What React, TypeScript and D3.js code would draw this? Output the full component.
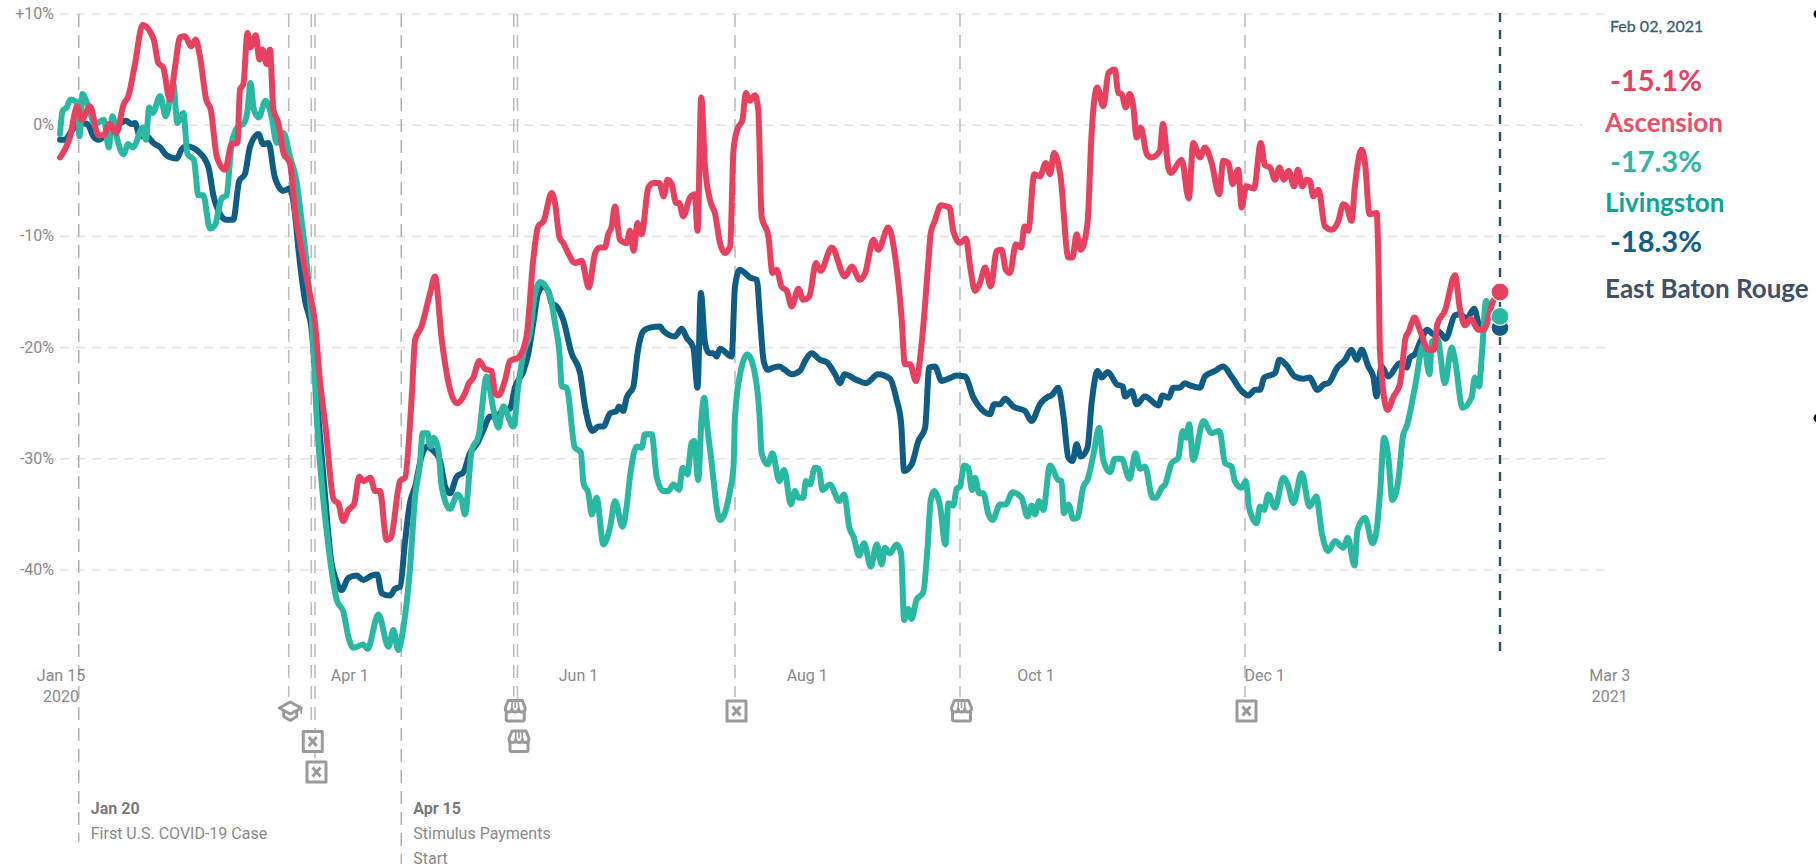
import * as React from "react";
import * as d3 from "d3";

type Pt = [number, number];

// [days since Jan 15 2020, % change]
const ascension: Pt[] = [
  [0,-2.9],[1.3,-2.2],[2.7,-1],[4.6,1.7],[5.8,0.5],[8,1.7],[10.2,-0.9],[11.6,-0.9],[13.2,0.1],[15,-0.7],[17,1.9],[18.2,2.6],[20,5.5],[22,9],[25,7.7],[26.2,5.6],[27.5,5.2],[29.3,2.3],[30.7,5.3],[32,7.9],[33.3,8],[35,7.1],[36.2,7.7],[37.3,6.2],[39,2.3],[40.2,1.4],[41.8,-2.8],[44,-4],[45.8,-1.7],[47.3,-1.6],[48,3.2],[48.9,3.7],[50,8.3],[50.8,7],[52.2,8.1],[53.2,5.9],[54,6.8],[55.1,5.5],[56,6.8],[56.9,1.4],[58.2,0.2],[59.6,-2.5],[61.3,-3.4],[62.7,-7.8],[64,-10.5],[66.2,-14.5],[68,-17.8],[69.3,-22.9],[70.8,-27.1],[73,-33.7],[74.2,-34],[75.5,-35.6],[76.9,-34.6],[78.4,-34.1],[79.8,-31.6],[80.9,-32],[82.8,-31.7],[84,-32.9],[85.3,-32.9],[87.1,-37.3],[88.2,-37.1],[90.7,-32],[92,-31.7],[93.8,-24.4],[94.7,-19.3],[96.4,-18.1],[98.7,-15.1],[100,-13.6],[101.8,-19.3],[105.8,-25],[108,-24.1],[108.9,-23.3],[110.2,-22.7],[111.8,-21.2],[113.3,-21.9],[115.1,-22.1],[116,-24.1],[116.9,-24.3],[118.7,-22.9],[120,-21.2],[122.2,-20.9],[124.4,-19],[126.2,-12.1],[127.5,-9.1],[129,-8.6],[131.1,-6.1],[132,-7],[133.2,-10.1],[134.2,-10.6],[135.5,-11.5],[137.3,-12.4],[139.1,-12.2],[141,-14.6],[142.7,-11.5],[144,-11],[145.3,-11],[146.2,-9.8],[147.1,-9.1],[148,-7.3],[149.3,-10.3],[151.1,-10.6],[152,-9.5],[153,-11.3],[154,-8.8],[155.1,-9.8],[156.9,-5.6],[158.2,-5.2],[159.8,-5.2],[161,-6.4],[162,-4.9],[163.1,-5.3],[164.3,-7],[165.1,-7],[166.2,-8.2],[168,-6.5],[169.3,-6.2],[170,-9.5],[171,2.5],[172,-3.7],[173.3,-6.7],[174.7,-8],[176,-10.6],[177.3,-11.5],[178.7,-10.9],[179.6,-2.2],[180.6,-0.4],[182,0.5],[182.9,2.9],[184,2.2],[185.3,2.7],[186.2,1.4],[187.1,-8.2],[188.9,-10],[190,-13.3],[191.1,-13],[192.4,-14.5],[193.8,-14.9],[195.1,-16.3],[196.9,-14.7],[198.2,-15.7],[199.8,-15.4],[201.6,-12.4],[202.8,-13.1],[205.8,-11],[209.3,-13.6],[211.1,-12.7],[213.3,-13.9],[214.7,-13.3],[216.9,-10.3],[218.2,-11.2],[220.9,-9.2],[222.7,-11.8],[224.4,-17.2],[225.3,-21.5],[226.7,-21.5],[228.2,-23],[230.2,-18.1],[231.6,-12.1],[232.2,-9.7],[233.3,-8.6],[234.9,-7.2],[237.2,-7.4],[238.2,-9.5],[240,-10.6],[241.6,-10.2],[242.7,-12.7],[244,-14.9],[245.2,-14.3],[246.7,-12.8],[248.2,-14.5],[249.8,-11.3],[251.1,-11.2],[252.2,-13],[253.3,-13.3],[254.9,-10.7],[256.3,-11],[257.2,-9.1],[258.2,-9.5],[259.8,-4.4],[261.3,-4.6],[262.9,-3.4],[264,-4.4],[265.1,-2.5],[266.8,-4.6],[268.9,-11.9],[270,-11.9],[271.1,-9.8],[272.2,-11.2],[274,-8.8],[275.1,-0.7],[276.6,3.4],[278.2,1.7],[279.6,4.7],[281.3,5],[282.2,2.9],[283.1,2.8],[284.2,1.6],[285.2,2.8],[286.2,1.7],[287.1,-1.1],[288.2,-0.2],[289.8,-2.6],[291.1,-2.9],[293.3,-2.3],[294.1,0.1],[295.6,-3.9],[296.2,-4.3],[299.1,-3.1],[301,-6.6],[302.2,-1.6],[304,-2.9],[305.3,-2],[307.1,-3.4],[309.1,-6.2],[310.2,-3.2],[311.6,-3.4],[312.7,-5.3],[314.2,-4],[315.1,-7.4],[316.3,-5.5],[318.4,-5.7],[320.2,-1.6],[321.3,-3.6],[322.7,-3.8],[324,-4.9],[325.2,-3.8],[326.4,-4.9],[327.6,-4.1],[329.1,-5.5],[330.1,-4],[331.3,-5.5],[332.4,-4.9],[333.3,-5],[334.2,-6.4],[335.6,-5.8],[337.3,-9.1],[339.1,-9.4],[340.9,-8.6],[342.2,-7.1],[343.1,-7.3],[344.4,-8.6],[345.3,-5.5],[347.1,-2.2],[348,-3.4],[349.2,-8],[351.1,-7.9],[351.6,-12.5],[352,-20.5],[354,-25.6],[355.6,-24.4],[357.3,-23.3],[358.9,-19],[359.6,-18.6],[361.2,-17.3],[362.7,-18.5],[364.9,-20.2],[366.4,-20.2],[367.3,-17.9],[369.3,-16.7],[372,-13.5],[373.3,-16.5],[374.7,-18],[376.2,-17.4],[378.2,-18.4],[379.6,-18.4],[382.2,-15.8],[384,-15],
];

const livingston: Pt[] = [
  [0,-0.8],[0.7,1.3],[1.8,1.6],[2.8,2.3],[4.6,2],[5.2,-1],[6,2.8],[7.3,1.9],[9.3,0.1],[11.7,0.5],[13,-2],[14,0.8],[15.3,-1.3],[16.9,-2.6],[18.2,-1.7],[19.4,-2],[22.2,-0.2],[22.9,-1.3],[23.8,1.6],[24.7,1.1],[26.7,2.6],[28.2,0.8],[30.2,3.7],[31.3,0.2],[32.9,1.1],[34,-2.6],[35.7,-3.1],[36.9,-6.3],[38.2,-6.3],[40,-9.3],[41.3,-9],[43.1,-6.6],[44.4,-6.3],[45.8,-1.6],[47.6,-0.1],[48.9,0.1],[50,1.3],[50.8,3.8],[51.7,1.4],[53,0.7],[54.8,2.2],[56.4,0.8],[57.8,-1.6],[59.6,-0.7],[61.3,-2.8],[63.1,-5.1],[64.2,-8],[66.2,-13.9],[67.6,-19.9],[68.3,-25.3],[69.8,-32.2],[71.6,-37.9],[72.4,-40],[73.8,-42.7],[75.6,-43.8],[76.9,-46],[78.2,-47],[80.9,-46.7],[82,-47.1],[84.9,-44],[87.6,-46.9],[88.9,-45.4],[90.2,-47.2],[91.6,-45.1],[93.3,-40],[94.7,-33.4],[96,-30.4],[96.7,-27.7],[98,-27.7],[98.8,-28.9],[99.7,-28.1],[100.9,-29.2],[101.8,-32.5],[104,-34.5],[106,-33.2],[107.1,-33.7],[108,-35],[109.8,-29.2],[111.6,-28],[113.8,-22.6],[115.6,-25.6],[116.9,-27.2],[118.2,-25.3],[120.9,-27.1],[122.2,-23.5],[123.6,-20.5],[125.3,-18.7],[126.7,-15.1],[128,-14.1],[130.7,-15.4],[132,-17.8],[133.2,-20.5],[133.8,-23.5],[135.1,-23.6],[137.3,-29],[138.9,-29.4],[139.6,-32.2],[140.9,-33.1],[141.8,-35],[143.1,-33.5],[144.9,-37.7],[146.7,-36.1],[148,-33.8],[150,-36.1],[151.1,-34.3],[152,-31.6],[153.8,-28.9],[155.1,-29],[156,-27.8],[157.8,-27.8],[159.1,-31.6],[160.9,-32.9],[162.2,-32.9],[163.6,-32.3],[165.1,-32.8],[166,-30.8],[167.3,-31.4],[168.4,-28.6],[169.1,-28.4],[170.2,-31.9],[171.1,-26.2],[171.8,-24.5],[172.6,-27.1],[173.5,-29.6],[176,-35.5],[178.7,-32.8],[179.6,-30.7],[180,-26.2],[181.8,-21.7],[183.3,-20.6],[184.9,-21.7],[186.5,-25.9],[187.1,-29.5],[188.7,-30.5],[190,-29.5],[191.8,-32],[193.1,-31],[194.9,-34.1],[196,-32.9],[196.9,-33.5],[198.2,-33.5],[198.9,-32],[200,-32.3],[201.3,-30.8],[202.4,-30.9],[203.3,-32.8],[205.3,-32.3],[207.8,-33.8],[209.1,-33.2],[210.5,-36.2],[211.6,-37],[213.1,-38.7],[214.4,-37.6],[216.2,-39.7],[217.8,-37.7],[219.1,-39.5],[220,-38],[221.3,-38.5],[223.1,-37.7],[224.3,-38.5],[225.1,-44.5],[226.2,-43.5],[227.1,-44.4],[228.4,-42.7],[230.2,-42],[231.3,-38.2],[232.2,-33.7],[233.1,-32.9],[234.7,-34.3],[236.1,-37.7],[236.9,-34],[238.2,-34.2],[239.1,-32.7],[240,-32.5],[241.1,-30.6],[242.2,-30.8],[243.2,-32.8],[244,-31.7],[245.1,-33.1],[246.2,-33.1],[247.6,-35],[248.7,-35.5],[250.7,-34.1],[252.2,-34.1],[254,-33],[256.4,-33.5],[258,-35.2],[259.1,-34.2],[260,-35],[261.1,-33.8],[262.2,-34.6],[264,-30.6],[266.2,-31.9],[267.1,-32],[267.7,-34.9],[268.9,-34.1],[270.2,-35.4],[271.3,-35.3],[272.9,-32.5],[274,-31.9],[275.6,-29.6],[277.1,-27.2],[278.2,-30.1],[280,-31.2],[281.3,-30],[283.1,-30],[285.2,-31.8],[286.8,-29.5],[288,-30.9],[289.3,-30.7],[291.4,-33.5],[292.3,-33.5],[293.8,-32.6],[294.7,-32.3],[296.4,-30.4],[298.2,-29.9],[299.4,-27.5],[300.3,-28.1],[301.1,-26.9],[302.2,-30.1],[304.9,-26.6],[307.1,-27.7],[309.2,-27.5],[310.7,-30.4],[312.4,-30.7],[313.3,-32],[315.1,-32.6],[316.2,-32],[317.1,-34.4],[319.1,-35.8],[320,-34.3],[321.1,-34.6],[322.2,-33.2],[324,-34.4],[326.2,-31.7],[327.3,-32.2],[328.9,-34],[331.1,-31.3],[333.2,-34.3],[335,-33.4],[336.5,-36.7],[338.2,-38.3],[340,-37.4],[342.2,-38],[343.4,-37.1],[345.2,-39.6],[346,-36.4],[348,-35.3],[350,-37.6],[351.1,-36.4],[352,-33.1],[353.1,-28.1],[354.2,-29.8],[355.3,-33.7],[356.9,-31.9],[358.2,-27.8],[359.1,-27.1],[361.3,-23.6],[363.6,-19.7],[365.2,-22.4],[365.8,-19.5],[367.3,-19.2],[369.3,-23.2],[371.1,-20],[372,-21.1],[374,-25.4],[376.4,-24.5],[377.3,-22.7],[378.4,-23.5],[379.1,-21],[380.3,-15.8],[381.8,-17.1],[384,-17.2],
];

const eastBatonRouge: Pt[] = [
  [0,-1.3],[1.3,-1.3],[3.1,-0.5],[5.3,0.2],[7.3,0.1],[8.9,-1],[10.2,-1.3],[12.4,-0.8],[14.7,-0.2],[17.6,0.4],[19.1,0.1],[20,0.2],[21.3,-1],[23.1,-1],[24.9,-1.6],[26.7,-2],[28.4,-2.7],[31.1,-3],[32.4,-2.2],[33.8,-1.9],[37.3,-2.5],[39.6,-3.8],[40.9,-6.3],[42.7,-8],[44.4,-8.5],[46.2,-8.5],[47.8,-5],[49.3,-4.4],[50.7,-1.9],[52.9,-0.8],[54.2,-1.7],[55.6,-1.6],[57.3,-4.7],[59.6,-5.9],[61.3,-5.7],[62.7,-8.1],[63.6,-11.2],[65.3,-15.7],[67.1,-18.4],[68.9,-26.2],[70.7,-33.4],[72.4,-39.4],[73.3,-40.6],[75.1,-41.8],[76.9,-40.7],[79.1,-40.5],[80.9,-40.9],[83.1,-40.5],[84.6,-40.4],[85.8,-42.1],[88,-42.3],[89.3,-41.7],[90.7,-41.5],[92,-37.5],[93.3,-34],[94.7,-32.5],[96.4,-29.8],[97.8,-28.9],[99.6,-29.3],[101.3,-30.1],[102.7,-32.5],[104,-33.1],[105.8,-31.6],[107.6,-31.2],[109.3,-29.5],[111.1,-28.7],[112.9,-27.4],[114.7,-26.2],[116.4,-26.2],[118.2,-25.6],[120,-25.5],[121.3,-23.6],[123.6,-22.1],[124.9,-20.5],[126.2,-17.8],[127.5,-15.1],[128.9,-14.5],[130.2,-14.9],[131.1,-16],[132.4,-16.3],[134.2,-17.5],[136.4,-20.5],[138.7,-22.3],[140,-25.3],[142,-27.5],[143.6,-27.1],[144.9,-27.1],[146.7,-25.9],[148.4,-25.7],[149.1,-25.3],[150.2,-25.7],[151.1,-24.5],[152.9,-23.5],[154,-20.5],[155.6,-18.5],[157.3,-18.2],[160,-18.1],[160.9,-18.5],[164,-19],[165.8,-18.3],[167.1,-19.1],[168.9,-20],[170,-23.6],[170.9,-15.1],[172,-19.6],[173.1,-20.5],[174.2,-20.5],[175.1,-20.8],[176,-20.1],[179.1,-20.8],[180,-14.5],[181.3,-13],[182.7,-13.3],[184,-13.7],[185.8,-13.9],[186.7,-17.5],[187.6,-21.1],[188.7,-22],[190.2,-21.8],[191.8,-21.7],[193.3,-22],[195.1,-22.4],[197.3,-22.1],[198.7,-21.2],[200.4,-20.5],[202.7,-21.1],[204.4,-21.3],[206.7,-22.4],[208,-23.2],[209.2,-22.4],[212.4,-22.9],[214.9,-23.2],[218.2,-22.4],[221.3,-22.8],[223.1,-24.7],[224.3,-26.8],[225.1,-31.1],[227.1,-30.5],[228.9,-28.4],[230.7,-27.2],[231.8,-21.8],[233.3,-21.7],[235.1,-23],[236.9,-22.8],[239.1,-22.5],[241.3,-22.6],[243.6,-24.5],[246.2,-25.7],[248,-26],[249.1,-25.1],[250.7,-25.1],[252,-24.6],[254.2,-25.3],[257.3,-25.7],[259.1,-26.6],[261.3,-25.1],[263.6,-24.4],[264.4,-24.3],[266.2,-23.6],[267.6,-26.2],[268.9,-29.9],[270,-30.2],[271.1,-28.7],[272.2,-29.8],[274,-29],[275.1,-25],[276.7,-22.1],[277.8,-22.7],[279.4,-22.2],[281.8,-23.3],[283.4,-23.5],[284,-24.4],[285.8,-23.9],[287.1,-25.1],[289.3,-24.4],[292.9,-25.2],[294,-24.3],[295.6,-24.5],[296.9,-23.6],[298.6,-23.6],[300,-23.2],[301.3,-23.4],[304,-23.6],[305.3,-22.6],[308,-22.1],[310.2,-21.7],[312.4,-22.6],[315.1,-23.9],[316.9,-24.3],[318.7,-23.8],[320,-23.8],[321.1,-22.7],[324,-22.3],[325.2,-21.1],[327.1,-21.6],[329.3,-22.6],[331.6,-22.8],[333.2,-22.7],[335.3,-23.8],[337.1,-23.3],[338.2,-23.2],[340.6,-21.8],[342.7,-21.1],[344.4,-20.2],[345.8,-21.1],[347.1,-20.2],[348.9,-21.7],[350.2,-22.6],[351.1,-24.4],[352.4,-21.7],[354.2,-22.6],[357.3,-21.4],[359.1,-21.8],[360,-20.9],[361.3,-20.6],[362.7,-19.5],[364.6,-18.4],[366.2,-18.8],[367.8,-18.6],[369.5,-19.2],[372,-17.1],[373.3,-17],[375.1,-17.4],[377.1,-16.5],[378.7,-18.2],[380.9,-17],[384,-18.2],
];

const seriesNames = ["East Baton Rouge", "Livingston", "Ascension"];
const seriesColors = ["#0f5c84", "#2bb8a3", "#e8415f"];
const seriesData = [eastBatonRouge, livingston, ascension];

const yTicks = [10, 0, -10, -20, -30, -40];
const xTickDays = [0, 77, 138, 199, 260, 321, 413];
const xTickLabels = ["Jan 15", "Apr 1", "Jun 1", "Aug 1", "Oct 1", "Dec 1", "Mar 3"];
const xTickYears = ["2020", "", "", "", "", "", "2021"];

// day, icon, row below the axis
const eventDays = [61, 67, 68, 121, 122, 180, 240, 316];
const eventIcons = ["cap", "box", "box", "store", "store", "box", "store", "box"];
const eventRows = [0, 1, 2, 0, 1, 0, 0, 0];

const notedDays = [5, 91];
const notedDates = ["Jan 20", "Apr 15"];
const notedLines = [["First U.S. COVID-19 Case"], ["Stimulus Payments", "Start"]];

const currentDay = 384;
const currentLabel = "Feb 02, 2021";
const readoutValues = ["-15.1%", "-17.3%", "-18.3%"];
const readoutNames = ["Ascension", "Livingston", "East Baton Rouge"];
const readoutValueColors = ["#e8415f", "#2fb5a2", "#135e86"];
const readoutNameColors = ["#e9506b", "#0aa596", "#3f5068"];

const W = 1816;
const H = 868;
const GREY = "#9a9a9a";
const TEXT = "#8a8a8a";
const LABEL_FONT = "Roboto, sans-serif";
const PANEL_FONT = "Lato, sans-serif";

const x = d3.scaleLinear().domain([0, 413]).range([60, 1608.75]);
const y = d3.scaleLinear().domain([10, -40]).range([14, 570]);

const line = d3
  .line<Pt>()
  .x((d) => x(d[0]))
  .y((d) => y(d[1]))
  .curve(d3.curveMonotoneX);

function Icon({ kind, cx, cy }: { kind: string; cx: number; cy: number }) {
  const common = { fill: "none", stroke: GREY, strokeWidth: 3, strokeLinejoin: "round" as const };
  if (kind === "box") {
    return (
      <g transform={`translate(${cx},${cy})`} {...common}>
        <rect x={-9.5} y={-10} width={19} height={20} fill="#fff" />
        <path d="M-4,-4.5L4,4.5M4,-4.5L-4,4.5" />
      </g>
    );
  }
  if (kind === "store") {
    return (
      <g transform={`translate(${cx},${cy})`} {...common}>
        <rect x={-9} y={-3} width={18} height={13} rx={1.5} fill="#fff" />
        <path d="M-7,-10.5H7L10,-3Q10,1 6.7,1Q3.4,1 3.3,-2Q3.3,1 0,1Q-3.3,1 -3.3,-2Q-3.4,1 -6.7,1Q-10,1 -10,-3Z" fill="#fff" />
        <path d="M-3,-10L-3.5,-3M0,-10V-3M3,-10L3.5,-3" strokeWidth={1.6} />
      </g>
    );
  }
  return (
    <g transform={`translate(${cx},${cy})`} {...common}>
      <path d="M0,-9L11,-3L0,3L-11,-3Z" fill="#fff" />
      <path d="M-6.5,0V5.5L0,9.5L6.5,5.5V0" />
      <path d="M11,-3V3" strokeWidth={1.6} />
    </g>
  );
}

export default function App() {
  const iconY = (row: number) => 711 + row * 30.5;
  // how far each event line runs: it stops where its icon starts
  const lineEnd = (row: number) => iconY(row) - 14;

  return (
    <svg
      width={W}
      height={H}
      viewBox={`0 0 ${W} ${H}`}
      style={{ position: "absolute", left: 0, top: 0, display: "block", background: "#fff" }}
    >
      {yTicks.map((t) => (
        <g key={t}>
          <line x1={60} x2={1610} y1={y(t)} y2={y(t)} stroke="#e2e2e2" strokeWidth={1.6} strokeDasharray="9 7" />
          <text x={54} y={y(t) + 5} textAnchor="end" fontFamily={LABEL_FONT} fontSize={16} fill={TEXT}>
            {t > 0 ? `+${t}%` : `${t}%`}
          </text>
        </g>
      ))}
      <rect x={1583} y={108} width={40} height={34} fill="#fff" />

      {eventDays.map((d, i) => (
        <line key={i} x1={x(d)} x2={x(d)} y1={14} y2={lineEnd(eventRows[i])} stroke="#bdbdbd" strokeWidth={1.6} strokeDasharray="13 8" />
      ))}
      {notedDays.map((d, i) => (
        <line key={d} x1={x(d)} x2={x(d)} y1={14} y2={i === 0 ? 842 : 864} stroke="#b5b5b5" strokeWidth={1.6} strokeDasharray="13 8" />
      ))}

      {xTickDays.map((d, i) => (
        <g key={d} fontFamily={LABEL_FONT} fontSize={16} fill={TEXT} textAnchor="middle">
          <text x={x(d) + 1} y={681}>{xTickLabels[i]}</text>
          {xTickYears[i] && <text x={x(d) + 1} y={702}>{xTickYears[i]}</text>}
        </g>
      ))}

      <line x1={x(currentDay)} x2={x(currentDay)} y1={13} y2={655} stroke="#1f5670" strokeWidth={2.4} strokeDasharray="9 8" />

      {seriesData.map((s, i) => (
        <path
          key={seriesNames[i]}
          d={line(s) ?? ""}
          fill="none"
          stroke={seriesColors[i]}
          strokeWidth={6}
          strokeLinejoin="round"
          strokeLinecap="round"
        />
      ))}
      {seriesData.map((s, i) => {
        const last = s[s.length - 1];
        return <circle key={i} cx={x(last[0])} cy={y(last[1])} r={9} fill={seriesColors[i]} stroke="#fff" strokeWidth={1.2} />;
      })}

      {eventDays.map((d, i) => (
        <Icon key={i} kind={eventIcons[i]} cx={x(d) + 1.5} cy={iconY(eventRows[i])} />
      ))}

      {notedDays.map((d, i) => (
        <g key={d} fontFamily={LABEL_FONT} fontSize={16} fill={TEXT}>
          <text x={x(d) + 12} y={814} fontWeight={700} fill="#7a7a7a">{notedDates[i]}</text>
          {notedLines[i].map((l, j) => (
            <text key={j} x={x(d) + 12} y={839 + j * 25}>{l}</text>
          ))}
        </g>
      ))}

      <g fontFamily={PANEL_FONT}>
        <text x={1610} y={32} fontSize={16} fontWeight={400} stroke="#34607a" strokeWidth={0.3} fill="#34607a">{currentLabel}</text>
        {readoutValues.map((v, i) => (
          <g key={v}>
            <text x={1610} y={91 + i * 80.5} fontSize={29} fontWeight={700} fill={readoutValueColors[i]}>{v}</text>
            <text x={1605} y={132 + i * 80 + (i === 2 ? 6 : 0)} fontSize={26} fontWeight={700} fill={readoutNameColors[i]}>{readoutNames[i]}</text>
          </g>
        ))}
      </g>

      <circle cx={1818} cy={14} r={4.5} fill="#111" />
      <circle cx={1818} cy={418} r={4.5} fill="#111" />
    </svg>
  );
}
